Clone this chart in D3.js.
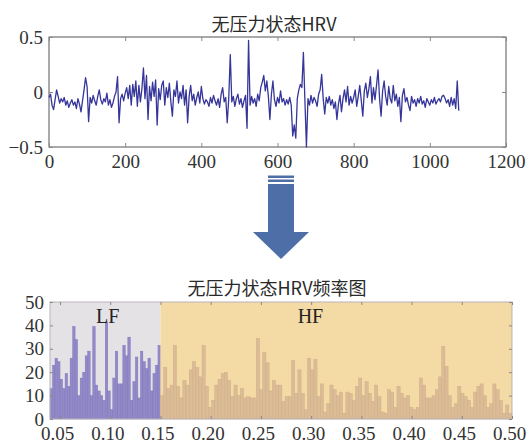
<!DOCTYPE html>
<html><head><meta charset="utf-8">
<script src="https://cdn.jsdelivr.net/npm/d3@7/dist/d3.min.js"></script>
<style>
html,body{margin:0;padding:0;background:#fff;}
svg{display:block;}
</style></head>
<body>
<svg id="chart" width="530" height="446"></svg>
<script>
// ---------- data ----------
const topTitle = "无压力状态HRV";
const bottomTitle = "无压力状态HRV频率图";
const hrvStep = 4; // sample spacing of the values below
const hrvValues = [
 -0.05,-0.02,-0.12,-0.16,-0.07,0.02,-0.04,-0.10,-0.06,-0.09,-0.05,-0.12,-0.08,-0.14,-0.10,-0.07,-0.12,-0.09,-0.15,-0.06,-0.11,-0.18,-0.08,0.02,0.13,
 0.05,-0.27,-0.05,-0.10,-0.03,-0.08,-0.12,-0.04,0.02,-0.07,-0.11,-0.06,-0.09,-0.01,-0.12,-0.07,-0.14,-0.10,-0.04,0.00,0.14,-0.28,-0.06,-0.02,-0.08,
 -0.01,0.04,-0.06,0.06,-0.12,0.07,-0.04,0.10,-0.13,0.06,-0.09,0.03,0.22,-0.06,0.15,-0.25,0.05,-0.08,0.09,-0.04,0.11,-0.30,0.03,-0.07,0.06,
 0.10,-0.12,0.04,-0.05,0.08,-0.09,-0.22,0.02,-0.04,0.10,-0.10,0.00,-0.06,0.06,-0.12,0.02,-0.28,-0.04,0.06,-0.08,-0.02,-0.12,-0.05,0.00,-0.10,
 0.05,-0.06,-0.11,-0.07,-0.09,-0.13,-0.05,-0.10,-0.03,-0.08,-0.12,-0.06,-0.14,-0.02,0.04,-0.09,-0.05,-0.28,-0.06,0.34,-0.09,-0.04,-0.13,-0.06,-0.02,
 -0.11,-0.06,-0.14,-0.08,-0.03,-0.33,0.47,-0.12,-0.04,-0.10,-0.06,-0.13,-0.02,-0.08,0.04,0.09,0.15,0.01,0.10,-0.04,-0.25,-0.02,0.10,-0.07,-0.13,
 -0.05,-0.10,0.01,-0.09,-0.06,-0.12,-0.07,-0.11,-0.05,-0.12,-0.40,-0.30,-0.42,-0.06,0.02,0.07,0.04,0.36,-0.08,-0.50,-0.06,-0.12,-0.03,-0.10,-0.05,
 -0.08,-0.13,-0.02,0.02,0.16,-0.06,-0.20,-0.05,-0.10,-0.04,-0.12,-0.07,-0.15,-0.09,-0.25,-0.11,-0.03,-0.18,-0.06,0.02,-0.09,0.05,-0.12,-0.04,-0.10,
 -0.05,0.02,-0.13,-0.04,0.06,-0.08,-0.22,0.01,0.08,-0.05,0.03,0.14,-0.10,0.04,-0.07,0.06,0.20,-0.06,-0.22,0.01,0.10,-0.04,-0.12,0.05,-0.06,
 -0.10,0.06,-0.08,-0.02,-0.13,-0.05,-0.27,-0.03,0.03,-0.09,-0.05,-0.12,-0.17,-0.04,-0.10,-0.07,-0.13,-0.06,-0.10,-0.04,-0.11,-0.08,-0.14,-0.06,-0.09,
 -0.12,-0.07,-0.10,-0.05,-0.11,-0.08,-0.06,-0.09,-0.04,-0.03,-0.06,-0.10,-0.07,-0.13,-0.05,-0.12,-0.06,-0.15,0.10,-0.17
];
const topXTicks = [0,200,400,600,800,1000,1200];
const topYTicks = [-0.5,0,0.5];
const topYLabels = ["\u22120.5","0","0.5"];

const bandEdges = [0.04, 0.15, 0.50];
const bandNames = ["LF","HF"];
const lfPower = [13,23,26,24.5,17,13,19.5,14,26,39.5,34,10,17.5,20,27,29,10,39.5,14.5,12,10,8,41.5,12,4,17.5,29,15,15,31.5,27,35,8,16,26.5,9,29,24.5,21.5,26,12,19.5,23,31.5];
const hfPower = [10,22,13,14.5,31.5,14,9,16.5,14.5,21,24.5,22,18,31.5,14,5,8,14.5,17,19.5,20,16.5,9.5,14.5,10,13,9,9.5,9,9,34.5,12.5,28.5,24,
 12,16.5,14.5,14.5,7.5,9.5,9.5,25,11,21,11,4,26,21,25.5,9.5,15,3,6.5,14.5,12.5,10,11.5,2.5,11.5,11,8,14,17.5,10,16,11,7.5,14.5,9.5,3,2.5,12.5,11.5,5,14,11,9,10,5,4,5,17.5,14.5,9,9,10,12.5,18,31,22.5,10,5,6.5,14,11,9.5,8,5,11.5,14,15,10,5,6.5,15,12.5,8,2.5,6,2.5];
const freqTicks = [0.05,0.10,0.15,0.20,0.25,0.30,0.35,0.40,0.45,0.50];
const powerTicks = [0,10,20,30,40,50];

// ---------- drawing ----------
const svg = d3.select("#chart");
const serif = "'Liberation Serif','DejaVu Serif',serif";
const cjk = "'Noto Sans CJK SC','Liberation Serif',serif";

// top chart
const T = {l:49, r:506, t:37, b:147};
const x1 = d3.scaleLinear().domain([0,1200]).range([T.l,T.r]);
const y1 = d3.scaleLinear().domain([-0.5,0.5]).range([T.b,T.t]);

svg.append("text").attr("x",274).attr("y",23).attr("text-anchor","middle").attr("dominant-baseline","central")
  .attr("font-family",cjk).attr("font-size",18).attr("fill","#2a2a2a").text(topTitle);

const g1 = svg.append("g");
g1.append("rect").attr("x",T.l).attr("y",T.t).attr("width",T.r-T.l).attr("height",T.b-T.t)
  .attr("fill","#fff").attr("stroke","#555").attr("stroke-width",1);

const line = d3.line().x((d,i)=>x1(i*hrvStep)).y(d=>y1(d));
g1.append("path").datum(hrvValues).attr("d",line).attr("fill","none")
  .attr("stroke","#35359a").attr("stroke-width",1.3).attr("stroke-linejoin","round");

g1.append("g").attr("transform",`translate(0,${T.b})`)
  .call(d3.axisBottom(x1).tickValues(topXTicks).tickSize(-4).tickPadding(8).tickFormat(d3.format("d")));
g1.append("g").attr("transform",`translate(0,${T.t})`)
  .call(d3.axisTop(x1).tickValues(topXTicks).tickSize(-4).tickFormat(""));
g1.append("g").attr("transform",`translate(${T.l},0)`)
  .call(d3.axisLeft(y1).tickValues(topYTicks).tickSize(-4).tickPadding(6).tickFormat((d,i)=>topYLabels[i]));
g1.append("g").attr("transform",`translate(${T.r},0)`)
  .call(d3.axisRight(y1).tickValues(topYTicks).tickSize(-4).tickFormat(""));

// arrow
const A = svg.append("g").attr("fill","#4e6ea8");
A.append("rect").attr("x",268).attr("y",175.5).attr("width",26).attr("height",2.5);
A.append("rect").attr("x",268).attr("y",179.5).attr("width",26).attr("height",2.5);
A.append("rect").attr("x",268).attr("y",184).attr("width",26).attr("height",49);
A.append("path").attr("d","M253,232 L309,232 L281,259 Z");

// bottom chart
const B = {l:50, r:512, t:302, b:419};
const x2 = d3.scaleLinear().domain([bandEdges[0],bandEdges[2]]).range([B.l,B.r]);
const y2 = d3.scaleLinear().domain([0,50]).range([B.b,B.t]);

svg.append("text").attr("x",277).attr("y",287).attr("text-anchor","middle").attr("dominant-baseline","central")
  .attr("font-family",cjk).attr("font-size",18).attr("fill","#2a2a2a").text(bottomTitle);

const g2 = svg.append("g");
const bgCol = ["#e5e2e6","#f4daa4"];
const barCol = ["#928ac8","#dbbc96"];
const barStroke = ["#7a72b8","#ccaa84"];
[lfPower,hfPower].forEach((vals,k)=>{
  const f0 = bandEdges[k], f1 = bandEdges[k+1];
  g2.append("rect").attr("x",x2(f0)).attr("y",B.t).attr("width",x2(f1)-x2(f0)).attr("height",B.b-B.t).attr("fill",bgCol[k]);
  const w = (f1-f0)/vals.length;
  g2.append("g").selectAll("rect").data(vals).join("rect")
    .attr("x",(d,i)=>x2(f0+i*w)).attr("width",x2(f0+w)-x2(f0))
    .attr("y",d=>y2(d)).attr("height",d=>y2(0)-y2(d))
    .attr("fill",barCol[k]).attr("stroke",barStroke[k]).attr("stroke-width",0.4);
  g2.append("text").attr("x",x2(k===0?0.0975:0.2993)).attr("y",316).attr("text-anchor","middle")
    .attr("dominant-baseline","central").attr("font-family",serif).attr("font-size",20).attr("fill","#222").text(bandNames[k]);
});
g2.append("rect").attr("x",B.l).attr("y",B.t).attr("width",B.r-B.l).attr("height",B.b-B.t)
  .attr("fill","none").attr("stroke","#b9b3b9").attr("stroke-width",1);
g2.append("g").attr("transform",`translate(-3,${B.b})`)
  .call(d3.axisBottom(x2).tickValues(freqTicks).tickSize(0).tickPadding(8).tickFormat(d3.format(".2f")));
g2.append("g").attr("transform",`translate(0,${B.b})`)
  .call(d3.axisBottom(x2).tickValues(freqTicks).tickSize(-3).tickFormat(""));
g2.append("g").attr("transform",`translate(0,${B.t})`)
  .call(d3.axisTop(x2).tickValues(freqTicks).tickSize(-3).tickFormat(""));
g2.append("g").attr("transform",`translate(${B.l},0)`)
  .call(d3.axisLeft(y2).tickValues(powerTicks).tickSize(-3).tickPadding(6));
g2.append("g").attr("transform",`translate(${B.r},0)`)
  .call(d3.axisRight(y2).tickValues(powerTicks).tickSize(-3).tickFormat(""));

svg.selectAll(".domain").remove();
svg.selectAll(".tick line").attr("stroke","#888");
svg.selectAll(".tick text").attr("font-family",serif).attr("font-size",19).attr("fill","#333");
</script>
</body></html>
